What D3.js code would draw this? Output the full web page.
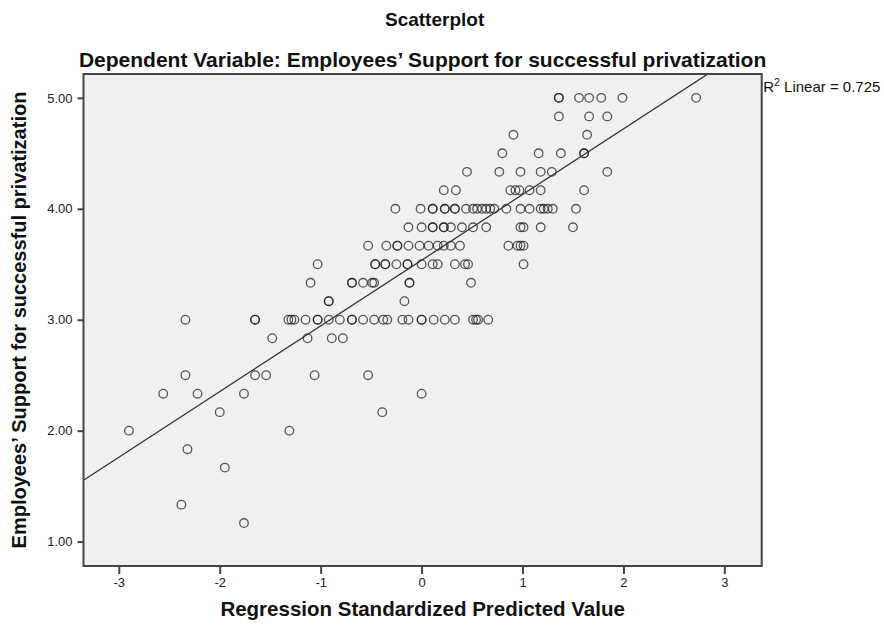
<!DOCTYPE html>
<html>
<head>
<meta charset="utf-8">
<script src="https://cdn.jsdelivr.net/npm/d3@7"></script>
<style>
  html, body { margin: 0; padding: 0; background: #ffffff; }
  svg { display: block; font-family: "Liberation Sans", Arial, sans-serif; }
</style>
</head>
<body>
<svg id="chart" width="884" height="628"></svg>
<script>
// Regression standardized predicted values, grouped by the observed support score
const predAt5000 = [1.36, 1.36, 1.56, 1.66, 1.78, 1.99, 2.72];
const predAt4833 = [1.36, 1.66, 1.84];
const predAt4667 = [0.91, 1.64];
const predAt4500 = [0.80, 1.16, 1.38, 1.61, 1.61];
const predAt4333 = [0.45, 0.77, 0.98, 1.18, 1.29, 1.84];
const predAt4167 = [0.22, 0.34, 0.88, 0.93, 0.97, 1.07, 1.18, 1.61];
const predAt4000 = [-0.26, -0.01, 0.11, 0.11, 0.23, 0.23, 0.33, 0.33, 0.44, 0.51, 0.55, 0.60,
                    0.64, 0.68, 0.72, 0.84, 0.98, 1.07, 1.18, 1.21, 1.25, 1.30, 1.53];
const predAt3833 = [-0.13, 0.00, 0.11, 0.11, 0.22, 0.22, 0.29, 0.40, 0.51, 0.64, 0.98, 1.01, 1.18, 1.50];
const predAt3667 = [-0.53, -0.35, -0.24, -0.24, -0.13, -0.02, 0.07, 0.16, 0.22, 0.29, 0.38,
                    0.86, 0.95, 0.98, 1.01];
const predAt3500 = [-1.03, -0.46, -0.46, -0.36, -0.36, -0.25, -0.14, -0.14, 0.00, 0.11, 0.16,
                    0.33, 0.43, 0.46, 1.01];
const predAt3333 = [-1.10, -0.69, -0.69, -0.58, -0.49, -0.47, -0.12, -0.12, 0.49];
const predAt3167 = [-0.92, -0.92, -0.17];
const predAt3000 = [-2.34, -1.65, -1.65, -1.32, -1.29, -1.26, -1.15, -1.03, -1.03, -0.92, -0.81,
                    -0.69, -0.69, -0.58, -0.47, -0.38, -0.34, -0.19, -0.13, 0.00, 0.00, 0.12,
                    0.23, 0.33, 0.51, 0.54, 0.56, 0.66];
const predAt2833 = [-1.48, -1.13, -0.89, -0.78];
const predAt2500 = [-2.34, -1.65, -1.54, -1.06, -0.53];
const predAt2333 = [-2.56, -2.22, -1.76, 0.00];
const predAt2167 = [-2.00, -0.39];
const predAt2000 = [-2.90, -1.31];
const predAt1833 = [-2.32];
const predAt1667 = [-1.95];
const predAt1333 = [-2.38];
const predAt1167 = [-1.76];

const supportScores = [5.000, 4.833, 4.667, 4.500, 4.333, 4.167, 4.000, 3.833, 3.667, 3.500,
                       3.333, 3.167, 3.000, 2.833, 2.500, 2.333, 2.167, 2.000, 1.833, 1.667,
                       1.333, 1.167];
const predictedGroups = [predAt5000, predAt4833, predAt4667, predAt4500, predAt4333, predAt4167,
                         predAt4000, predAt3833, predAt3667, predAt3500, predAt3333, predAt3167,
                         predAt3000, predAt2833, predAt2500, predAt2333, predAt2167, predAt2000,
                         predAt1833, predAt1667, predAt1333, predAt1167];

// Linear fit: support = intercept + slope * predicted
const fitCoefficients = [3.536, 0.592];
const fitLabel = "0.725";

const xTicks = [-3, -2, -1, 0, 1, 2, 3];
const yTicks = [1, 2, 3, 4, 5];

const titleText = "Scatterplot";
const subtitleText = "Dependent Variable: Employees\u2019 Support for successful privatization";
const xTitle = "Regression Standardized Predicted Value";
const yTitle = "Employees\u2019 Support for successful privatization";

// ---- layout ----
const svg = d3.select("#chart");
const plot = { left: 83.5, top: 74, right: 761.7, bottom: 566 };

const x = d3.scaleLinear().domain([-3.35, 3.37]).range([plot.left, plot.right]);
const y = d3.scaleLinear().domain([0.78, 5.215]).range([plot.bottom, plot.top]);

const points = [];
supportScores.forEach((s, i) => predictedGroups[i].forEach(p => points.push({ p, s })));

// plot background
svg.append("rect")
  .attr("x", plot.left).attr("y", plot.top)
  .attr("width", plot.right - plot.left).attr("height", plot.bottom - plot.top)
  .attr("fill", "#f0f0f0");

svg.append("clipPath").attr("id", "plot-clip")
  .append("rect")
  .attr("x", plot.left).attr("y", plot.top)
  .attr("width", plot.right - plot.left).attr("height", plot.bottom - plot.top);

// axes
const fmtX = d => (d < 0 ? "-" : "") + Math.abs(d);
const xAxis = svg.append("g")
  .attr("transform", `translate(0,${plot.bottom})`)
  .call(d3.axisBottom(x).tickValues(xTicks).tickFormat(fmtX).tickSize(8).tickPadding(4));
const yAxis = svg.append("g")
  .attr("transform", `translate(${plot.left},0)`)
  .call(d3.axisLeft(y).tickValues(yTicks).tickFormat(d3.format(".2f")).tickSize(6).tickPadding(5));

[xAxis, yAxis].forEach(g => {
  g.select(".domain").remove();
  g.selectAll(".tick line").attr("stroke", "#444").attr("stroke-width", 2);
  g.selectAll(".tick text")
    .attr("fill", "#222")
    .style("font-family", "'Liberation Sans', Arial, sans-serif")
    .style("font-size", "13px");
});

// points
svg.append("g")
  .attr("clip-path", "url(#plot-clip)")
  .selectAll("circle")
  .data(points)
  .join("circle")
  .attr("cx", d => x(d.p))
  .attr("cy", d => y(d.s))
  .attr("r", 4.3)
  .attr("fill", "none")
  .attr("stroke", "#1a1a1a")
  .attr("stroke-opacity", 0.72)
  .attr("stroke-width", 1.3);

// fit line
const [b0, b1] = fitCoefficients;
const xs = x.domain();
svg.append("line")
  .attr("clip-path", "url(#plot-clip)")
  .attr("x1", x(xs[0])).attr("y1", y(b0 + b1 * xs[0]))
  .attr("x2", x(xs[1])).attr("y2", y(b0 + b1 * xs[1]))
  .attr("stroke", "#333")
  .attr("stroke-width", 1.3);

// frame
svg.append("rect")
  .attr("x", plot.left).attr("y", plot.top)
  .attr("width", plot.right - plot.left).attr("height", plot.bottom - plot.top)
  .attr("fill", "none")
  .attr("stroke", "#444")
  .attr("stroke-width", 2);

// fit label
const r2 = svg.append("text")
  .attr("x", plot.right + 1.5)
  .attr("y", 92)
  .style("font-size", "15px")
  .attr("fill", "#111");
r2.append("tspan").text("R");
r2.append("tspan").attr("dy", -6).style("font-size", "10.5px").text("2");
r2.append("tspan").attr("dy", 6).text(" Linear = " + fitLabel);

// titles
const cx = (plot.left + plot.right) / 2;
svg.append("text")
  .attr("x", cx + 12).attr("y", 26)
  .attr("text-anchor", "middle")
  .style("font-size", "19px").style("font-weight", "bold")
  .attr("fill", "#111")
  .text(titleText);
svg.append("text")
  .attr("x", cx).attr("y", 67)
  .attr("text-anchor", "middle")
  .style("font-size", "21px").style("font-weight", "bold")
  .attr("fill", "#111")
  .text(subtitleText);
svg.append("text")
  .attr("x", cx).attr("y", 616)
  .attr("text-anchor", "middle")
  .style("font-size", "20.5px").style("font-weight", "bold")
  .attr("fill", "#111")
  .text(xTitle);
svg.append("text")
  .attr("transform", `translate(26,${(plot.top + plot.bottom) / 2}) rotate(-90)`)
  .attr("text-anchor", "middle")
  .style("font-size", "20px").style("font-weight", "bold")
  .attr("fill", "#111")
  .text(yTitle);
</script>
</body>
</html>
